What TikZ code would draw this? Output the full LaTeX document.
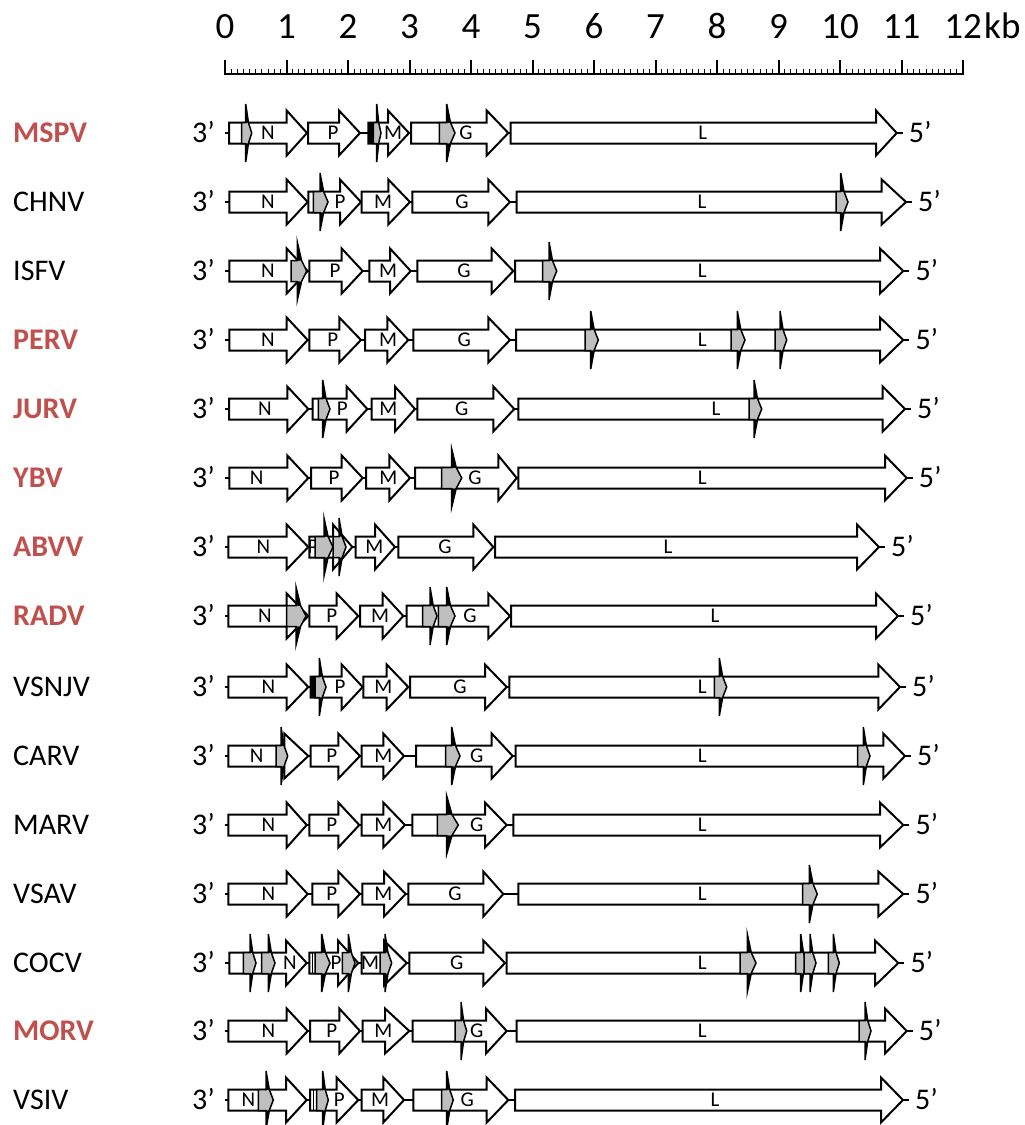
\documentclass[tikz,border=0pt]{standalone}
\usepackage{fontspec}
\setmainfont{Carlito}
\definecolor{vred}{HTML}{C0504D}
\definecolor{mgray}{HTML}{BFBFBF}
\tikzset{
  genebox/.style={draw=black,fill=white,line width=2pt,line join=miter},
  mkline/.style={draw=black,line width=1.5pt,line join=miter},
  backbone/.style={draw=black,line width=2pt},
  genelab/.style={font=\fontsize{21}{25}\selectfont,anchor=base,inner sep=0pt},
  endlab/.style={font=\fontsize{30}{36}\selectfont,inner sep=0pt},
  plainname/.style={font=\fontsize{30}{36}\selectfont,inner sep=0pt,anchor=base west,text=black},
  redname/.style={font=\fontsize{30}{36}\selectfont\bfseries,inner sep=0pt,anchor=base west,text=vred},
  scalelab/.style={font=\fontsize{37}{44}\selectfont,inner sep=0pt,anchor=base},
}
% gene arrow: cy, start, head base, tip, label, label x
\newcommand{\gn}[6]{%
  \draw[genebox] ({#2},{#1-10.5}) -- ({#3},{#1-10.5}) -- ({#3},{#1-22.5}) -- ({#4},{#1}) -- ({#3},{#1+22.5}) -- ({#3},{#1+10.5}) -- ({#2},{#1+10.5}) -- cycle;
  \node[genelab] (lab-#5-#1) at ({#6},{#1+6.6}) {#5};}
% marker: cy, left, spike x, tip
\newcommand{\mk}[4]{%
  \fill[mgray] ({#2},{#1-10.5}) -- ({#3+0.45*(#4-#3)},{#1-10.5}) -- ({#4},{#1}) -- ({#3+0.45*(#4-#3)},{#1+10.5}) -- ({#2},{#1+10.5}) -- cycle;
  \fill[black] ({#3},{#1-10.5}) -- ({#3},{#1-29}) -- ({#3+0.45*(#4-#3)},{#1-10.5}) -- cycle;
  \fill[black] ({#3},{#1+10.5}) -- ({#3},{#1+29}) -- ({#3+0.45*(#4-#3)},{#1+10.5}) -- cycle;
  \draw[mkline] ({#2},{#1-10.5}) -- ({#3},{#1-10.5}) -- ({#3},{#1-29}) -- ({#3+0.45*(#4-#3)},{#1-10.5}) -- ({#4},{#1}) -- ({#3+0.45*(#4-#3)},{#1+10.5}) -- ({#3},{#1+29}) -- ({#3},{#1+10.5}) -- ({#2},{#1+10.5}) -- cycle;}
% row: cy, name, style, end x, id
\newcommand{\rw}[5]{%
  \draw[backbone] (225,#1) -- ({#4+6},#1);
  \node[#3] (name-#5) at (13,{#1+9.7}) {#2};
  \node[endlab,anchor=base east] (three-#5) at (215,{#1+9.7}) {3’};
  \node[endlab,anchor=base west] (five-#5) at ({#4+12},{#1+9.7}) {5’};}
\begin{document}
\begin{tikzpicture}[x=1pt,y=-1pt]
\useasboundingbox (0,0) rectangle (1025,1125);
% scale
\foreach \i in {0,...,120}{\draw[line width=1pt] ({225+6.15*\i},69) -- ({225+6.15*\i},74);}
\foreach \k in {0,...,12}{\draw[line width=2pt] ({225+61.5*\k},60) -- ({225+61.5*\k},74);
  \node[scalelab] (sc\k) at ({225+61.5*\k},38) {\k};}
\draw[line width=2.4pt] (224,74) -- (964,74);
\node[scalelab,anchor=base west] (kb) at (984,38) {kb};
% MSPV
\rw{133}{MSPV}{redname}{896.7}{mspv}
\gn{133}{229}{286.7}{307}{N}{268}
\gn{133}{308}{339}{360}{P}{333}
\gn{133}{368.3}{388}{409}{M}{393}
\gn{133}{411}{486.7}{508.3}{G}{466}
\gn{133}{510.7}{876}{896.7}{L}{702.7}
\fill[black] (368.3,122.5) rectangle (373.3,143.5);
\mk{133}{241.7}{245.7}{251.7}
\mk{133}{373.3}{376.7}{381}
\mk{133}{439.3}{446.7}{455}
% CHNV
\rw{202}{CHNV}{plainname}{906}{chnv}
\gn{202}{229.3}{286.7}{307.7}{N}{268}
\gn{202}{308.3}{340}{361}{P}{340}
\gn{202}{361.7}{388.3}{410}{M}{383}
\gn{202}{412.3}{488.3}{510}{G}{462}
\gn{202}{516.7}{881.7}{906}{L}{702}
\mk{202}{313.3}{320}{328}
\mk{202}{836}{840.7}{848}
% ISFV
\rw{271}{ISFV}{plainname}{903.3}{isfv}
\gn{271}{229.3}{286.7}{307.7}{N}{268}
\gn{271}{309.3}{341.7}{362.7}{P}{335}
\gn{271}{369.3}{390}{410.7}{M}{388}
\gn{271}{417.3}{491.7}{513.3}{G}{464}
\gn{271}{515}{880}{903.3}{L}{702.3}
\mk{271}{291}{297.3}{306.7}
\mk{271}{542.7}{549}{556.7}
% PERV
\rw{340}{PERV}{redname}{903.3}{perv}
\gn{340}{229.3}{286.7}{307.7}{N}{268}
\gn{340}{309.3}{339.3}{361}{P}{332.7}
\gn{340}{365}{387.3}{408.3}{M}{388}
\gn{340}{413.3}{488.3}{510}{G}{464.3}
\gn{340}{516}{880}{903.3}{L}{702.3}
\mk{340}{585}{590.7}{598.3}
\mk{340}{731}{737.3}{745}
\mk{340}{775}{780}{786.7}
% JURV
\rw{409}{JURV}{redname}{905}{jurv}
\gn{409}{229}{287.3}{308.3}{N}{265}
\gn{409}{312.7}{346.7}{367.3}{P}{342.3}
\gn{409}{371.7}{395}{415}{M}{388.3}
\gn{409}{417.3}{493.3}{514.3}{G}{461.7}
\gn{409}{518.3}{882.7}{905}{L}{716}
\mk{409}{318.3}{322.7}{330}
\mk{409}{749}{754}{761.7}
% YBV
\rw{478}{YBV}{redname}{906.7}{ybv}
\gn{478}{229.3}{287.3}{308.3}{N}{256.7}
\gn{478}{311}{341.7}{362.7}{P}{334}
\gn{478}{366}{389.3}{410}{M}{388.3}
\gn{478}{415}{498.3}{516.7}{G}{475}
\gn{478}{518.3}{885}{906.7}{L}{702.3}
\mk{478}{441.7}{451.7}{461.7}
% ABVV
\rw{547}{ABVV}{redname}{879}{abvv}
\gn{547}{228.3}{286.7}{308.3}{N}{263.3}
\gn{547}{309.3}{333}{352.3}{P}{313}
\gn{547}{355.7}{375}{395}{M}{374.3}
\gn{547}{398.3}{473.3}{493.3}{G}{445}
\gn{547}{495}{857}{879}{L}{668}
\mk{547}{315}{324}{333}
\mk{547}{333}{339}{346}
% RADV
\rw{616}{RADV}{redname}{898}{radv}
\gn{616}{228.3}{286.7}{308.3}{N}{265}
\gn{616}{309.3}{336.7}{358.3}{P}{331.7}
\gn{616}{360}{382.7}{403.3}{M}{380}
\gn{616}{406.7}{488.3}{510}{G}{470}
\gn{616}{511}{876}{898}{L}{715}
\mk{616}{286.7}{296}{306}
\mk{616}{422.7}{430}{437}
\mk{616}{438.3}{446.7}{455}
% VSNJV
\rw{687}{VSNJV}{plainname}{900}{vsnjv}
\gn{687}{228.3}{286.7}{308.3}{N}{268.3}
\gn{687}{310.7}{341.7}{362.7}{P}{340}
\gn{687}{363.3}{386.7}{408.3}{M}{383.3}
\gn{687}{410}{485}{506.7}{G}{460}
\gn{687}{509.3}{878.3}{900}{L}{702.3}
\fill[black] (310.7,676.5) rectangle (315,697.5);
\mk{687}{315}{319.3}{326}
\mk{687}{714.3}{719.3}{726.7}
% CARV
\rw{756}{CARV}{plainname}{905}{carv}
\gn{756}{228.3}{284.3}{308.3}{N}{256.7}
\gn{756}{310.7}{338.3}{360}{P}{331.7}
\gn{756}{361.7}{383.3}{404}{M}{383.3}
\gn{756}{416}{491.7}{512.7}{G}{476.7}
\gn{756}{515.7}{883.3}{905}{L}{702.3}
\mk{756}{276}{281}{287.7}
\mk{756}{445.7}{451.7}{460}
\mk{756}{857.7}{863.3}{870}
% MARV
\rw{825}{MARV}{plainname}{903.3}{marv}
\gn{825}{228.3}{286.7}{306.7}{N}{268.3}
\gn{825}{309.3}{338.3}{359.3}{P}{331.7}
\gn{825}{361.7}{383.3}{405}{M}{383.3}
\gn{825}{412.3}{485}{506.7}{G}{476.7}
\gn{825}{513.3}{880}{903.3}{L}{702.3}
\mk{825}{437.3}{446.7}{458.3}
% VSAV
\rw{894}{VSAV}{plainname}{903.3}{vsav}
\gn{894}{228.3}{286.7}{307.7}{N}{268.3}
\gn{894}{312.3}{338.3}{360}{P}{331.7}
\gn{894}{362.3}{384}{405.7}{M}{383.3}
\gn{894}{408.3}{483.3}{503.3}{G}{455}
\gn{894}{518.3}{878.3}{903.3}{L}{702.3}
\mk{894}{802.7}{809.3}{817.3}
% COCV
\rw{963}{COCV}{plainname}{898.3}{cocv}
\gn{963}{229.3}{286}{306.7}{N}{290}
\gn{963}{309.3}{338}{358.3}{P}{336}
\gn{963}{361.7}{384}{406.7}{M}{370}
\gn{963}{409.3}{483.3}{505}{G}{456.7}
\gn{963}{506.7}{875}{898.3}{L}{702.3}
\draw[line width=1.5pt] (312.5,952.5) -- (312.5,973.5);
\mk{963}{243.3}{250}{256}
\mk{963}{261.7}{268.3}{275}
\mk{963}{315}{321.7}{330}
\mk{963}{342.3}{348.3}{355}
\mk{963}{380}{385}{391.7}
\mk{963}{740}{747.3}{756}
\mk{963}{795.7}{800.7}{806.7}
\mk{963}{804}{810}{816}
\mk{963}{828.3}{833.3}{839.3}
% MORV
\rw{1031}{MORV}{redname}{906.7}{morv}
\gn{1031}{228.3}{286.7}{307.7}{N}{268.3}
\gn{1031}{310}{339.3}{360}{P}{331.7}
\gn{1031}{362.7}{385}{409.3}{M}{383.3}
\gn{1031}{412.7}{486}{506.7}{G}{476.7}
\gn{1031}{516.7}{885}{906.7}{L}{702.3}
\mk{1031}{455}{461}{466.7}
\mk{1031}{859}{865}{871}
% VSIV
\rw{1100}{VSIV}{plainname}{903}{vsiv}
\gn{1100}{228.3}{286}{306.7}{N}{248.3}
\gn{1100}{310}{336.7}{358.3}{P}{339.3}
\gn{1100}{361.7}{383.3}{404}{M}{380}
\gn{1100}{413.3}{486.7}{508.3}{G}{467.3}
\gn{1100}{515}{881}{903}{L}{715}
\draw[line width=1.5pt] (313.3,1089.5) -- (313.3,1110.5);
\mk{1100}{258.3}{266}{273.3}
\mk{1100}{316.7}{322.7}{328.3}
\mk{1100}{441.7}{446.7}{453.3}
\end{tikzpicture}
\end{document}
